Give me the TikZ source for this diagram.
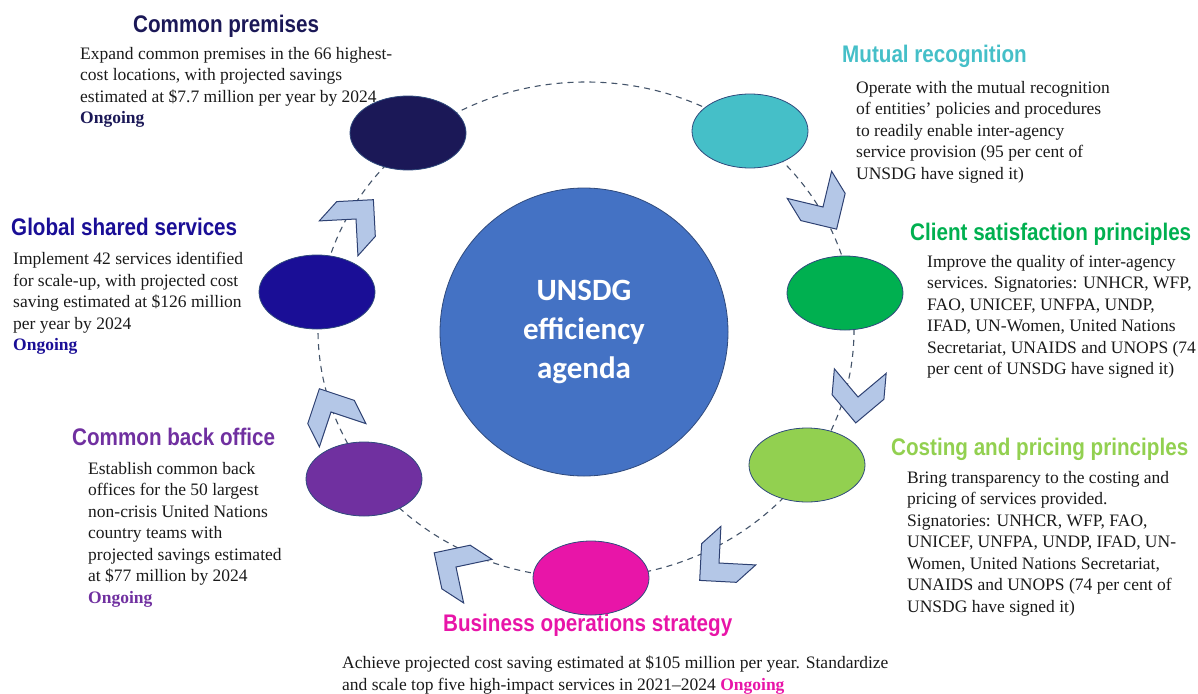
\documentclass[tikz,border=0pt]{standalone}
\usepackage{fontspec}
\setmainfont{Liberation Serif}
\newfontfamily\headfont[FakeStretch=0.86]{Liberation Sans}
\newfontfamily\hubfont{Carlito}
\usetikzlibrary{shapes.geometric}

\definecolor{premnavy}{HTML}{1B1857}
\definecolor{mutteal}{HTML}{45BFC8}
\definecolor{clientgreen}{HTML}{00B050}
\definecolor{costgreen}{HTML}{92D050}
\definecolor{bosmagenta}{HTML}{E815A8}
\definecolor{backpurple}{HTML}{7030A0}
\definecolor{gssblue}{HTML}{1A0E96}
\definecolor{hubblue}{HTML}{4472C4}
\definecolor{edgeblue}{HTML}{2F4A7C}
\definecolor{ringgray}{HTML}{44546A}
\definecolor{chevfill}{HTML}{B4C7E7}
\definecolor{chevedge}{HTML}{2E4172}
\definecolor{bodyblack}{HTML}{1A1A1A}

\tikzset{
    ring/.style={draw=ringgray, line width=1.1pt, dash pattern=on 6pt off 5pt},
    stage/.style={ellipse, draw=edgeblue, line width=0.8pt, minimum width=116pt, minimum height=74pt},
    hub/.style={circle, draw=edgeblue, line width=0.8pt, fill=hubblue, minimum size=288pt,
        text=white, align=center, font=\hubfont\bfseries\fontsize{31}{39}\selectfont},
    headline/.style={anchor=base west, inner sep=0pt, font=\headfont\bfseries\fontsize{24}{28}\selectfont},
    blurb/.style={anchor=north west, inner sep=0pt, align=left, text=bodyblack,
        font=\fontsize{17.5}{21.5}\selectfont},
    chevronline/.style={fill=chevfill, draw=chevedge, line width=1pt},
    chevron/.pic={\path[chevronline] (26,0) -- (0,26) -- (-26,26) -- (0,0) -- (-26,-26) -- (0,-26) -- cycle;}
}

\begin{document}
\begin{tikzpicture}[x=1pt, y=-1pt]
    \useasboundingbox (0,0) rectangle (1198,693);

    % dashed cycle behind everything
    \coordinate (ringc) at (586,330);
    \draw[ring] (ringc) ellipse [x radius=268pt, y radius=248pt];

    % chevrons between the stages: notch x / notch y / direction
    \foreach \cx/\cy/\dir in {823/207/-58.5, 858/397/-95, 719/563/-138, 456/567/147, 331/412/116.6, 356/219/48}
        \pic[rotate=\dir] at (\cx,\cy) {chevron};

    % the seven stages
    \node[stage, fill=premnavy]    (premises)   at (408,133) {};
    \node[stage, fill=mutteal]     (mutual)     at (750,131) {};
    \node[stage, fill=clientgreen] (client)     at (845,293) {};
    \node[stage, fill=costgreen]   (costing)    at (807,465) {};
    \node[stage, fill=bosmagenta]  (bos)        at (591,578) {};
    \node[stage, fill=backpurple]  (backoffice) at (364,479) {};
    \node[stage, fill=gssblue]     (gss)        at (317,292) {};

    \node[hub] (agenda) at (584,332) {UNSDG\\efficiency\\agenda};

    % headings
    \node[headline, text=premnavy]    (premises-head)   at (133,32.5) {Common premises};
    \node[headline, text=mutteal]     (mutual-head)     at (842,63)   {Mutual recognition};
    \node[headline, text=clientgreen] (client-head)     at (910,240)  {Client satisfaction principles};
    \node[headline, text=costgreen]   (costing-head)    at (891,455)  {Costing and pricing principles};
    \node[headline, text=bosmagenta]  (bos-head)        at (443,631)  {Business operations strategy};
    \node[headline, text=backpurple]  (backoffice-head) at (72,445)   {Common back office};
    \node[headline, text=gssblue]     (gss-head)        at (11,235)   {Global shared services};

    % descriptions
    \node[blurb] (premises-text) at (80,47) {Expand common premises in the 66 highest-\\
        cost locations, with projected savings\\
        estimated at \$7.7 million per year by 2024\\
        \textbf{\color{premnavy}Ongoing}};
    \node[blurb] (mutual-text) at (856,81) {Operate with the mutual recognition\\
        of entities' policies and procedures\\
        to readily enable inter-agency\\
        service provision (95 per cent of\\
        UNSDG have signed it)};
    \node[blurb] (client-text) at (927,254.5) {Improve the quality of inter-agency\\
        services. Signatories: UNHCR, WFP,\\
        FAO, UNICEF, UNFPA, UNDP,\\
        IFAD, UN-Women, United Nations\\
        Secretariat, UNAIDS and UNOPS (74\\
        per cent of UNSDG have signed it)};
    \node[blurb] (costing-text) at (907,471) {Bring transparency to the costing and\\
        pricing of services provided.\\
        Signatories: UNHCR, WFP, FAO,\\
        UNICEF, UNFPA, UNDP, IFAD, UN-\\
        Women, United Nations Secretariat,\\
        UNAIDS and UNOPS (74 per cent of\\
        UNSDG have signed it)};
    \node[blurb] (bos-text) at (342,656) {Achieve projected cost saving estimated at \$105 million per year. Standardize\\
        and scale top five high-impact services in 2021--2024 \textbf{\color{bosmagenta}Ongoing}};
    \node[blurb] (backoffice-text) at (88,462) {Establish common back\\
        offices for the 50 largest\\
        non-crisis United Nations\\
        country teams with\\
        projected savings estimated\\
        at \$77 million by 2024\\
        \textbf{\color{backpurple}Ongoing}};
    \node[blurb] (gss-text) at (13,252) {Implement 42 services identified\\
        for scale-up, with projected cost\\
        saving estimated at \$126 million\\
        per year by 2024\\
        \textbf{\color{gssblue}Ongoing}};
\end{tikzpicture}
\end{document}
